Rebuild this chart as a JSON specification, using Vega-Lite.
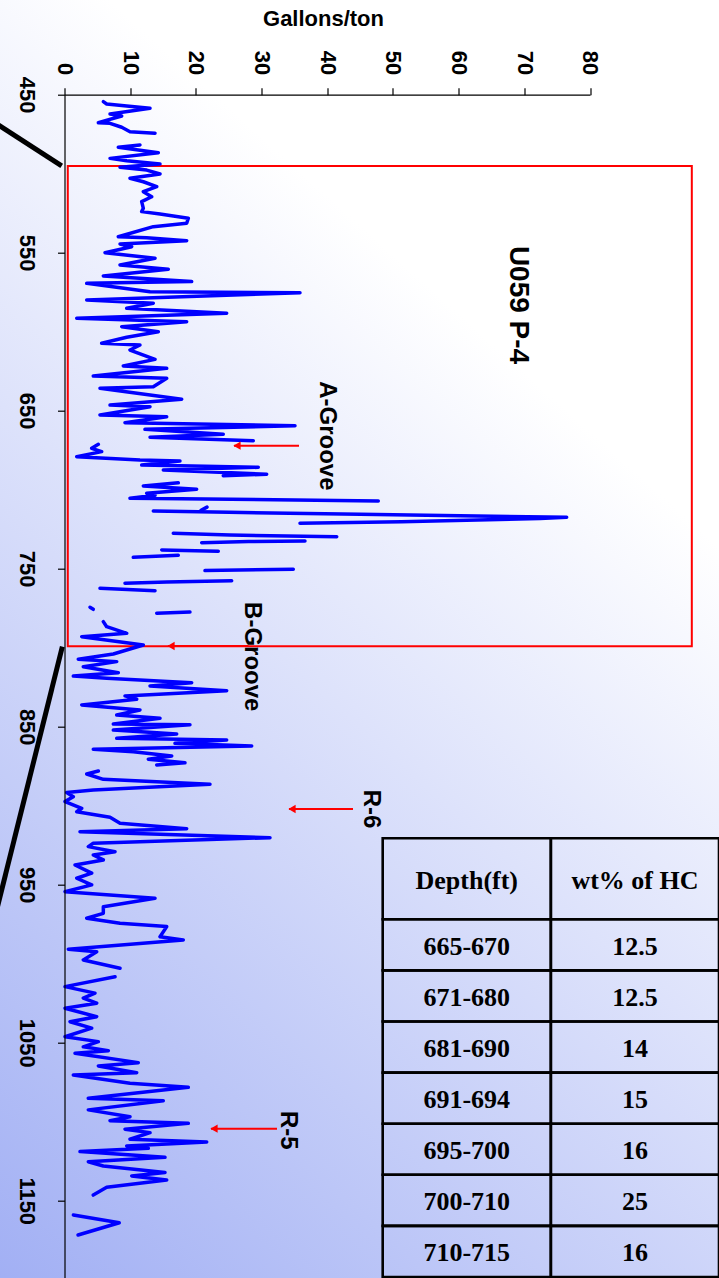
{
  "$schema": "https://vega.github.io/schema/vega-lite/v6.json",
  "width": 525.5,
  "height": 1183,
  "autosize": {"type": "none"},
  "padding": {"left": 64.5, "top": 94.7, "right": 129, "bottom": 0},
  "background": "#ffffff",
  "config": {"view": {"stroke": null}, "font": "Liberation Sans"},
  "datasets": {
    "log": [
      {"s":1,"d":454.4,"g":5.91},{"s":1,"d":455.9,"g":6.42},{"s":1,"d":457.2,"g":9.47},{"s":1,"d":458.6,"g":13.02},{"s":1,"d":462.2,"g":6.93},{"s":1,"d":463.5,"g":8.71},{"s":1,"d":467.7,"g":5.15},{"s":1,"d":468.1,"g":6.93},{"s":1,"d":470.6,"g":8.71},{"s":1,"d":473.4,"g":9.97},{"s":1,"d":474.4,"g":13.78},
      {"s":2,"d":481.8,"g":11.49},{"s":2,"d":483.3,"g":8.19},{"s":2,"d":486.7,"g":14.28},{"s":2,"d":490.3,"g":6.93},{"s":2,"d":491.8,"g":9.47},{"s":2,"d":493.9,"g":14.54},{"s":2,"d":495.9,"g":8.45},{"s":2,"d":497.7,"g":12.51},{"s":2,"d":500.2,"g":14.54},{"s":2,"d":502.9,"g":9.97},{"s":2,"d":505.1,"g":12.0},{"s":2,"d":508.2,"g":14.04},{"s":2,"d":511.4,"g":12.0},{"s":2,"d":514.6,"g":13.27},{"s":2,"d":517.7,"g":11.75},{"s":2,"d":521.9,"g":12.0},{"s":2,"d":524.0,"g":11.75},{"s":2,"d":525.5,"g":14.54},{"s":2,"d":528.2,"g":18.85},{"s":2,"d":531.4,"g":18.6},{"s":2,"d":533.5,"g":13.52},{"s":2,"d":539.9,"g":8.19},{"s":2,"d":540.5,"g":12.51},{"s":2,"d":542.4,"g":18.6},{"s":2,"d":544.5,"g":8.45},{"s":2,"d":546.2,"g":10.23},{"s":2,"d":550.0,"g":6.17},{"s":2,"d":553.5,"g":13.78},{"s":2,"d":557.8,"g":8.45},{"s":2,"d":560.5,"g":15.8},{"s":2,"d":564.7,"g":5.91},{"s":2,"d":568.3,"g":19.36},{"s":2,"d":569.4,"g":3.38},{"s":2,"d":574.7,"g":13.02},{"s":2,"d":575.3,"g":35.85},{"s":2,"d":579.9,"g":3.38},{"s":2,"d":582.0,"g":13.52},{"s":2,"d":585.2,"g":9.47},{"s":2,"d":588.3,"g":24.69},{"s":2,"d":591.5,"g":1.86},{"s":2,"d":593.7,"g":18.6},{"s":2,"d":596.8,"g":8.71},{"s":2,"d":600.0,"g":14.28},{"s":2,"d":603.5,"g":9.47},{"s":2,"d":607.3,"g":5.66},{"s":2,"d":608.4,"g":11.49},{"s":2,"d":611.6,"g":9.97},{"s":2,"d":617.5,"g":13.78},{"s":2,"d":621.7,"g":8.95},{"s":2,"d":623.2,"g":15.56},{"s":2,"d":628.0,"g":4.38},{"s":2,"d":629.5,"g":15.56},{"s":2,"d":634.8,"g":13.52},{"s":2,"d":635.8,"g":5.4},{"s":2,"d":642.8,"g":17.84},{"s":2,"d":646.4,"g":6.93},{"s":2,"d":647.5,"g":13.02},{"s":2,"d":652.7,"g":5.4},{"s":2,"d":653.8,"g":15.56},{"s":2,"d":657.6,"g":9.21},{"s":2,"d":659.5,"g":35.09},{"s":2,"d":661.8,"g":12.25},{"s":2,"d":664.9,"g":24.17},{"s":2,"d":666.8,"g":13.02},{"s":2,"d":669.0,"g":28.74},
      {"s":3,"d":671.3,"g":5.15},{"s":3,"d":673.8,"g":4.14},{"s":3,"d":675.9,"g":5.66},{"s":3,"d":679.1,"g":1.86},{"s":3,"d":681.2,"g":11.49},{"s":3,"d":681.8,"g":17.58},{"s":3,"d":684.4,"g":11.75},{"s":3,"d":685.8,"g":29.5},{"s":3,"d":687.5,"g":15.04},{"s":3,"d":690.2,"g":30.78},{"s":3,"d":691.1,"g":24.17},
      {"s":4,"d":695.6,"g":17.32},{"s":4,"d":697.6,"g":12.0},{"s":4,"d":699.7,"g":20.12},{"s":4,"d":702.3,"g":12.51},{"s":4,"d":703.5,"g":13.78},{"s":4,"d":705.4,"g":9.97},{"s":4,"d":707.1,"g":47.77},
      {"s":5,"d":711.0,"g":21.69},{"s":5,"d":713.0,"g":20.8},
      {"s":6,"d":713.5,"g":13.52},{"s":6,"d":714.3,"g":25.0},{"s":6,"d":715.6,"g":45.0},{"s":6,"d":717.4,"g":76.45},{"s":6,"d":718.2,"g":72.4},{"s":6,"d":720.2,"g":51.3},{"s":6,"d":721.2,"g":35.85},
      {"s":7,"d":727.6,"g":16.56},{"s":7,"d":728.7,"g":25.19},{"s":7,"d":729.7,"g":41.44},
      {"s":8,"d":732.5,"g":36.61},{"s":8,"d":732.8,"g":28.0},{"s":8,"d":733.5,"g":20.89},
      {"s":9,"d":738.1,"g":14.8},{"s":9,"d":738.9,"g":23.41},
      {"s":10,"d":741.5,"g":17.32},{"s":10,"d":742.8,"g":10.47},
      {"s":11,"d":750.3,"g":34.83},{"s":11,"d":751.2,"g":21.39},
      {"s":12,"d":757.6,"g":25.45},{"s":12,"d":758.4,"g":15.56},{"s":12,"d":759.2,"g":9.21},
      {"s":13,"d":762.4,"g":5.4},{"s":13,"d":763.9,"g":13.78},
      {"s":14,"d":774.4,"g":3.88},{"s":14,"d":775.7,"g":4.38},
      {"s":15,"d":777.4,"g":19.1},{"s":15,"d":778.2,"g":14.04},
      {"s":16,"d":783.5,"g":5.91},{"s":16,"d":786.7,"g":6.42},{"s":16,"d":790.9,"g":9.47},{"s":16,"d":793.0,"g":2.62},{"s":16,"d":798.3,"g":12.0},{"s":16,"d":804.0,"g":7.43},{"s":16,"d":807.3,"g":2.1},{"s":16,"d":808.8,"g":7.95},{"s":16,"d":812.0,"g":2.86},{"s":16,"d":815.8,"g":8.19},{"s":16,"d":817.9,"g":1.34},{"s":16,"d":819.3,"g":6.42},{"s":16,"d":822.1,"g":19.36},{"s":16,"d":824.2,"g":13.02},{"s":16,"d":827.2,"g":24.69},{"s":16,"d":830.5,"g":9.21},{"s":16,"d":832.6,"g":10.99},{"s":16,"d":836.2,"g":2.62},{"s":16,"d":839.4,"g":11.49},{"s":16,"d":842.6,"g":7.95},{"s":16,"d":844.7,"g":14.54},{"s":16,"d":848.3,"g":7.43},{"s":16,"d":848.8,"g":19.1},{"s":16,"d":852.1,"g":7.43},{"s":16,"d":854.6,"g":17.08},{"s":16,"d":857.3,"g":7.95},{"s":16,"d":858.4,"g":24.69},{"s":16,"d":860.5,"g":16.82},{"s":16,"d":862.2,"g":28.5},{"s":16,"d":864.3,"g":4.38},{"s":16,"d":865.8,"g":10.47},{"s":16,"d":868.5,"g":16.32},{"s":16,"d":870.6,"g":12.76},{"s":16,"d":872.8,"g":18.34},{"s":16,"d":874.2,"g":14.04},
      {"s":17,"d":878.0,"g":5.15},{"s":17,"d":879.9,"g":3.38},{"s":17,"d":883.3,"g":5.91},{"s":17,"d":886.4,"g":22.15},{"s":17,"d":890.0,"g":4.38},{"s":17,"d":891.7,"g":0.33},{"s":17,"d":894.3,"g":1.34},{"s":17,"d":897.4,"g":0.08},{"s":17,"d":901.6,"g":2.62},{"s":17,"d":903.8,"g":1.86},{"s":17,"d":907.3,"g":6.93},{"s":17,"d":911.1,"g":8.45},{"s":17,"d":914.5,"g":18.6},{"s":17,"d":916.4,"g":2.36},{"s":17,"d":920.2,"g":31.28},{"s":17,"d":923.8,"g":4.38},{"s":17,"d":925.9,"g":3.62},{"s":17,"d":929.1,"g":7.69},{"s":17,"d":931.2,"g":4.38},{"s":17,"d":934.3,"g":5.91},{"s":17,"d":937.5,"g":1.6},{"s":17,"d":942.7,"g":4.14},{"s":17,"d":945.9,"g":1.86},{"s":17,"d":950.1,"g":4.14},{"s":17,"d":954.4,"g":0.08},{"s":17,"d":958.6,"g":13.78},{"s":17,"d":963.9,"g":5.91},{"s":17,"d":968.1,"g":5.91},{"s":17,"d":971.2,"g":3.38},{"s":17,"d":974.4,"g":8.45},{"s":17,"d":976.5,"g":15.56},{"s":17,"d":982.9,"g":14.54},{"s":17,"d":985.0,"g":18.08},{"s":17,"d":990.8,"g":0.58},{"s":17,"d":992.4,"g":4.9},{"s":17,"d":997.6,"g":2.86},{"s":17,"d":1002.9,"g":8.45},
      {"s":18,"d":1008.2,"g":7.69},{"s":18,"d":1014.5,"g":0.08},{"s":18,"d":1018.6,"g":4.64},{"s":18,"d":1021.8,"g":2.86},{"s":18,"d":1025.0,"g":4.9},{"s":18,"d":1028.2,"g":0.08},{"s":18,"d":1033.5,"g":4.9},{"s":18,"d":1036.7,"g":0.84},{"s":18,"d":1040.8,"g":4.14},{"s":18,"d":1046.2,"g":0.08},{"s":18,"d":1049.3,"g":5.15},{"s":18,"d":1052.6,"g":2.86},{"s":18,"d":1055.0,"g":6.67},{"s":18,"d":1056.7,"g":1.6},{"s":18,"d":1062.6,"g":11.23},{"s":18,"d":1064.7,"g":5.15},{"s":18,"d":1069.0,"g":10.99},{"s":18,"d":1070.4,"g":1.34},{"s":18,"d":1075.6,"g":9.97},{"s":18,"d":1078.2,"g":18.85},{"s":18,"d":1085.1,"g":3.62},{"s":18,"d":1086.7,"g":15.04},{"s":18,"d":1092.5,"g":3.62},{"s":18,"d":1096.8,"g":9.97},{"s":18,"d":1099.3,"g":6.93},{"s":18,"d":1101.0,"g":18.85},{"s":18,"d":1104.7,"g":9.21},{"s":18,"d":1106.9,"g":13.02},{"s":18,"d":1111.1,"g":9.97},{"s":18,"d":1112.8,"g":21.65},{"s":18,"d":1115.3,"g":9.47},{"s":18,"d":1116.8,"g":12.76},{"s":18,"d":1118.9,"g":2.36},{"s":18,"d":1122.5,"g":15.3},{"s":18,"d":1125.3,"g":3.62},{"s":18,"d":1128.0,"g":5.91},{"s":18,"d":1132.2,"g":15.3},{"s":18,"d":1134.3,"g":10.23},{"s":18,"d":1136.9,"g":15.56},{"s":18,"d":1141.5,"g":6.42},{"s":18,"d":1146.4,"g":4.38},
      {"s":19,"d":1159.0,"g":1.35},{"s":19,"d":1163.9,"g":8.34},{"s":19,"d":1171.7,"g":2.06}
    ],
    "markers": [
      {"name":"A-Groove","depth":672.1,"tail":35.7,"tip":25.8,"labelG":39.96,"labelD":665.9},
      {"name":"B-Groove","depth":798.9,"tail":28.0,"tip":15.76,"labelG":28.62,"labelD":805.7},
      {"name":"R-6","depth":902.1,"tail":43.92,"tip":34.18,"labelG":46.66,"labelD":902.1},
      {"name":"R-5","depth":1104.4,"tail":32.35,"tip":22.3,"labelG":33.99,"labelD":1105.4}
    ],
    "connectors": [
      {"g1":-12.86,"d1":461.6,"g2":-0.43,"d2":495.1},
      {"g1":-0.33,"d1":799.3,"g2":-11.34,"d2":982.9}
    ],
    "hc": [
      {"Depth(ft)":"665-670","wt% of HC":12.5},
      {"Depth(ft)":"671-680","wt% of HC":12.5},
      {"Depth(ft)":"681-690","wt% of HC":14},
      {"Depth(ft)":"691-694","wt% of HC":15},
      {"Depth(ft)":"695-700","wt% of HC":16},
      {"Depth(ft)":"700-710","wt% of HC":25},
      {"Depth(ft)":"710-715","wt% of HC":16}
    ],
    "head": [
      {"column":"Depth(ft)"},
      {"column":"wt% of HC"}
    ]
  },
  "layer": [
    {
      "layer": [
        {
          "data": {"values": [{}]},
          "mark": {"type": "rect", "fill": {"gradient": "linear", "x1": 0.152, "y1": 0, "x2": -0.3165, "y2": 0.9279, "stops": [{"offset": 0, "color": "#ffffff"}, {"offset": 1, "color": "#9aa9f3"}]}},
          "encoding": {
            "x": {"datum": -9.9, "type": "quantitative",
              "scale": {"domain": [0, 80], "nice": false, "zero": false},
              "axis": {"orient": "top", "values": [0,10,20,30,40,50,60,70,80], "format": "d", "grid": false, "zindex": 2,
                "domainColor": "#000000", "tickColor": "#000000", "tickSize": 7, "domainWidth": 1.2, "tickWidth": 1.2,
                "labelAngle": 90, "labelAlign": "right", "labelBaseline": "middle", "labelPadding": 13,
                "labelFont": "Liberation Sans", "labelFontWeight": "bold", "labelFontSize": 22, "labelColor": "#000000",
                "title": "Gallons/ton", "titleFont": "Liberation Sans", "titleFontWeight": "bold", "titleFontSize": 22, "titleColor": "#000000",
                "titleAngle": 0, "titleAlign": "center", "titleBaseline": "alphabetic", "titleX": 258.5, "titleY": -69}},
            "x2": {"datum": 99.7},
            "y": {"datum": 389.9, "type": "quantitative",
              "scale": {"domain": [450, 1198.7], "nice": false, "zero": false, "reverse": true},
              "axis": {"orient": "left", "values": [450,550,650,750,850,950,1050,1150], "format": "d", "grid": false, "zindex": 2,
                "domainColor": "#000000", "tickColor": "#000000", "tickSize": 7, "domainWidth": 1.2, "tickWidth": 1.2,
                "labelAngle": 90, "labelAlign": "center", "labelBaseline": "top", "labelPadding": 21,
                "labelFont": "Liberation Sans", "labelFontWeight": "bold", "labelFontSize": 22, "labelColor": "#000000",
                "title": null}},
            "y2": {"datum": 1199}
          }
        },
        {
          "data": {"values": [{}]},
          "mark": {"type": "rect", "fill": "transparent", "stroke": "#ff0000", "strokeWidth": 2},
          "encoding": {
            "x": {"datum": 0.5, "type": "quantitative"},
            "x2": {"datum": 95.5},
            "y": {"datum": 495.1, "type": "quantitative"},
            "y2": {"datum": 799.1}
          }
        },
        {
          "data": {"name": "connectors"},
          "mark": {"type": "rule", "color": "#000000", "strokeWidth": 5},
          "encoding": {
            "x": {"field": "g1", "type": "quantitative"},
            "x2": {"field": "g2"},
            "y": {"field": "d1", "type": "quantitative"},
            "y2": {"field": "d2"}
          }
        },
        {
          "data": {"name": "log"},
          "mark": {"type": "line", "color": "#0000ff", "strokeWidth": 3.5, "strokeJoin": "round", "strokeCap": "round"},
          "encoding": {
            "x": {"field": "g", "type": "quantitative"},
            "y": {"field": "d", "type": "quantitative"},
            "detail": {"field": "s", "type": "nominal"},
            "order": {"field": "d", "type": "quantitative"}
          }
        },
        {
          "data": {"name": "markers"},
          "mark": {"type": "rule", "color": "#ff0000", "strokeWidth": 2},
          "encoding": {
            "x": {"field": "tail", "type": "quantitative"},
            "x2": {"field": "tip"},
            "y": {"field": "depth", "type": "quantitative"}
          }
        },
        {
          "data": {"name": "markers"},
          "mark": {"type": "point", "shape": "triangle-left", "filled": true, "color": "#ff0000", "size": 70, "opacity": 1, "xOffset": 3},
          "encoding": {
            "x": {"field": "tip", "type": "quantitative"},
            "y": {"field": "depth", "type": "quantitative"}
          }
        },
        {
          "data": {"name": "markers"},
          "mark": {"type": "text", "angle": 90, "font": "Liberation Sans", "fontWeight": "bold", "fontSize": 24, "color": "#000000", "align": "center", "baseline": "middle"},
          "encoding": {
            "x": {"field": "labelG", "type": "quantitative"},
            "y": {"field": "labelD", "type": "quantitative"},
            "text": {"field": "name"}
          }
        },
        {
          "data": {"values": [{"well": "U059 P-4"}]},
          "mark": {"type": "text", "angle": 90, "font": "Liberation Sans", "fontWeight": "bold", "fontSize": 28, "color": "#000000", "align": "center", "baseline": "middle"},
          "encoding": {
            "x": {"datum": 69.04, "type": "quantitative"},
            "y": {"datum": 583.1, "type": "quantitative"},
            "text": {"field": "well"}
          }
        }
      ]
    },
    {
      "layer": [
        {
          "data": {"name": "head"},
          "encoding": {
            "x": {"field": "column", "type": "nominal", "scale": {"domain": ["Depth(ft)", "wt% of HC"], "range": [318.2, 654.5], "paddingInner": 0, "paddingOuter": 0}, "axis": null},
            "y": {"datum": "header", "type": "nominal", "scale": {"range": [743.6, 824.6], "paddingInner": 0, "paddingOuter": 0}, "axis": null}
          },
          "layer": [
            {"mark": {"type": "rect", "fill": "transparent", "stroke": "#000000", "strokeWidth": 2.6}},
            {"mark": {"type": "text", "font": "Liberation Serif", "fontWeight": "bold", "fontSize": 26, "color": "#000000", "align": "center", "baseline": "middle", "dy": 2},
             "encoding": {"text": {"field": "column"}}}
          ]
        },
        {
          "data": {"name": "hc"},
          "transform": [{"fold": ["Depth(ft)", "wt% of HC"], "as": ["column", "cell"]}],
          "encoding": {
            "x": {"field": "column", "type": "nominal", "axis": null},
            "y": {"field": "Depth(ft)", "type": "nominal", "sort": null, "scale": {"range": [824.6, 1182.3], "paddingInner": 0, "paddingOuter": 0}, "axis": null}
          },
          "layer": [
            {"mark": {"type": "rect", "fill": "transparent", "stroke": "#000000", "strokeWidth": 2.6}},
            {"mark": {"type": "text", "font": "Liberation Serif", "fontWeight": "bold", "fontSize": 26, "color": "#000000", "align": "center", "baseline": "middle", "dy": 2},
             "encoding": {"text": {"field": "cell", "type": "nominal"}}}
          ]
        }
      ],
      "resolve": {"scale": {"y": "independent"}}
    }
  ],
  "resolve": {"scale": {"x": "independent", "y": "independent"}}
}
